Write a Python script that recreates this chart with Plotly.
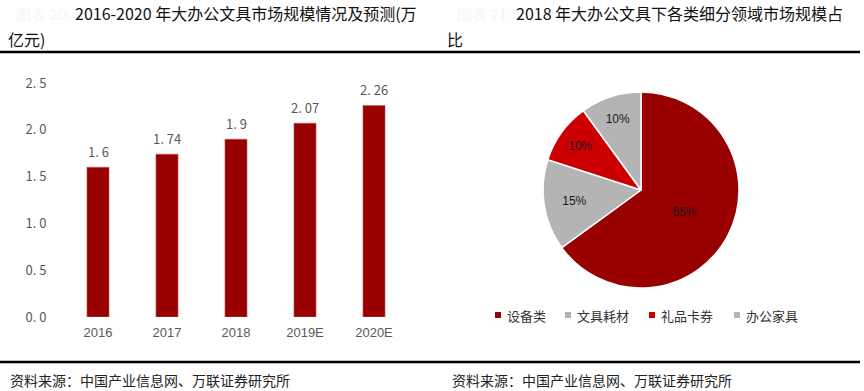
import plotly.graph_objects as go

W, H = 864, 391

# ---- data ----
years = ["2016", "2017", "2018", "2019E", "2020E"]
market_size = [1.6, 1.74, 1.9, 2.07, 2.26]
y_tickvals = [0.0, 0.5, 1.0, 1.5, 2.0, 2.5]
y_ticktext = ["0. 0", "0. 5", "1. 0", "1. 5", "2. 0", "2. 5"]

segments = ["设备类", "文具耗材", "礼品卡券", "办公家具"]
shares = [65, 15, 10, 10]
seg_colors = ["#990000", "#B4B4B4", "#CC0000", "#B4B4B4"]

left_title_1 = "2016-2020 年大办公文具市场规模情况及预测(万"
left_title_2 = "亿元)"
right_title_1 = "2018 年大办公文具下各类细分领域市场规模占"
right_title_2 = "比"
source_text = "资料来源：中国产业信息网、万联证券研究所"

FONT = "Noto Sans CJK SC"

def px(x):
    return x / W

def py(y):
    return 1 - y / H

bar_labels = [f"{v:g}".replace(".", ". ") for v in market_size]

fig = go.Figure()
fig.add_trace(go.Bar(
    x=years, y=market_size,
    marker=dict(color="#990000", line=dict(color="#C06060", width=0.6)),
    showlegend=False, hoverinfo="x+y",
))

fig.add_trace(go.Pie(
    labels=segments, values=shares, sort=False, direction="clockwise", rotation=0,
    marker=dict(colors=seg_colors, line=dict(color="white", width=1.5)),
    texttemplate="%{value}%", textposition="inside", insidetextorientation="horizontal",
    insidetextfont=dict(family="Liberation Sans, Arial", size=12, color="#1a1a1a"),
    domain=dict(x=[px(543), px(739)], y=[py(288), py(92)]),
    showlegend=False,
))

fig.update_layout(
    width=W, height=H,
    margin=dict(l=0, r=0, t=0, b=0, pad=0, autoexpand=False),
    showlegend=False,
    paper_bgcolor="white", plot_bgcolor="white",
    bargap=0.68,
    xaxis=dict(type="category", domain=[px(63.5), px(408.5)], range=[-0.5, len(years) - 0.5],
               showgrid=False, showline=False, zeroline=False, automargin=False,
               ticks="", tickfont=dict(family="Liberation Sans, Arial", size=13, color="#595959"),
               ticklabelstandoff=6),
    yaxis=dict(domain=[py(317), py(83)], range=[0, 2.5], showgrid=False, showline=False,
               zeroline=False, tickvals=y_tickvals, ticktext=y_ticktext, ticks="",
               automargin=False,
               tickfont=dict(family=FONT, size=13, color="#595959"), ticklabelstandoff=16),
    font=dict(family=FONT),
)

ann = []
def text(x, y, s, size, color="#111", anchor="left"):
    ann.append(dict(x=px(x), y=py(y), xref="paper", yref="paper", text=s, showarrow=False,
                    xanchor=anchor, yanchor="middle",
                    font=dict(family=FONT, size=size, color=color)))

# bar value labels (placed in data coordinates; x = category index)
for i, (v, lab) in enumerate(zip(market_size, bar_labels)):
    ann.append(dict(x=i, y=v, xref="x", yref="y", text=lab, showarrow=False,
                    xanchor="center", yanchor="middle", yshift=16,
                    font=dict(family=FONT, size=13, color="#595959")))

# faded prefixes
text(14, 13, "图表 20:", 15, "#F6F6F6")
text(455, 13, "图表 21:", 15, "#F6F6F6")
# titles
text(73, 13, left_title_1, 16)
text(6, 39, left_title_2, 16)
text(514, 13, right_title_1, 16)
text(445, 39, right_title_2, 16)
# sources
text(8, 380, source_text, 14, "#222")
text(450, 380, source_text, 14, "#222")

# legend for pie
leg_sq_x = [495, 565, 649, 734]
for sx, lab, col in zip(leg_sq_x, segments, seg_colors):
    text(sx + 10, 315, lab, 13, "#333")
fig.update_layout(annotations=ann)

shapes = []
for sx, col in zip(leg_sq_x, seg_colors):
    shapes.append(dict(type="rect", xref="paper", yref="paper",
                       x0=px(sx), x1=px(sx + 6), y0=py(318), y1=py(312),
                       fillcolor=col, line=dict(width=0)))
# rules
shapes.append(dict(type="line", xref="paper", yref="paper", x0=0, x1=px(860),
                   y0=py(52), y1=py(52), line=dict(color="#000", width=2.5)))
shapes.append(dict(type="line", xref="paper", yref="paper", x0=0, x1=px(860),
                   y0=py(362), y1=py(362), line=dict(color="#000", width=2.5)))
fig.update_layout(shapes=shapes)

fig.write_html("out.html", config={"displayModeBar": False},
               post_script="document.body.style.margin='0';")
